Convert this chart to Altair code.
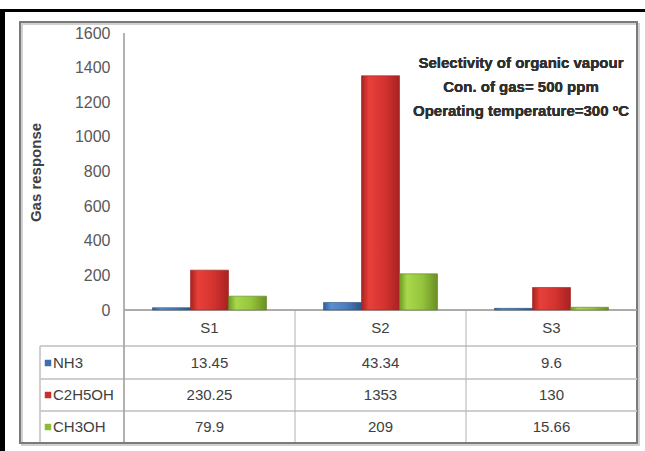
import altair as alt
import pandas as pd

# ---- data ----
categories = ["S1", "S2", "S3"]
series = ["NH3", "C2H5OH", "CH3OH"]
nh3 = [13.45, 43.34, 9.6]
c2h5oh = [230.25, 1353, 130]
ch3oh = [79.9, 209, 15.66]
nh3_txt = ["13.45", "43.34", "9.6"]
c2h5oh_txt = ["230.25", "1353", "130"]
ch3oh_txt = ["79.9", "209", "15.66"]
y_ticks = [0, 200, 400, 600, 800, 1000, 1200, 1400, 1600]
note_lines = ["Selectivity of organic vapour", "Con. of gas= 500 ppm", "Operating temperature=300 \u00baC"]

rows = []
for s, vals, txts in [("NH3", nh3, nh3_txt), ("C2H5OH", c2h5oh, c2h5oh_txt), ("CH3OH", ch3oh, ch3oh_txt)]:
    for c, v, t in zip(categories, vals, txts):
        rows.append({"category": c, "series": s, "value": v, "label": t})
df = pd.DataFrame(rows)
cat_df = pd.DataFrame({"category": categories})

# ---- layout ----
W, H = 513, 277
ROW_Y = {"NH3": 330, "C2H5OH": 362, "CH3OH": 394}   # row centers (relative to plot origin)
HEAD_Y = 295
TABLE_BOTTOM = 409
LABEL_X = -71
FONT = "Liberation Sans"

gradients = {
    "NH3": ["#2f5f9a", "#5b8fd0", "#4a7dbd", "#2c5488"],
    "C2H5OH": ["#a82220", "#e8403a", "#d43330", "#a82220"],
    "CH3OH": ["#6f9a22", "#a9d84c", "#94c43c", "#6a8f24"],
}
strokes = {"NH3": "#2a4f80", "C2H5OH": "#9a1f1c", "CH3OH": "#5f8020"}
swatch_cols = {"NH3": "#3f6fb0", "C2H5OH": "#c8302c", "CH3OH": "#8cbd34"}


def grad(cols):
    return alt.Gradient(
        gradient="linear", x1=0, x2=1, y1=0, y2=0,
        stops=[alt.GradientStop(color=cols[0], offset=0),
               alt.GradientStop(color=cols[1], offset=0.2),
               alt.GradientStop(color=cols[2], offset=0.6),
               alt.GradientStop(color=cols[3], offset=1)])


xscale = alt.Scale(domain=categories, paddingInner=0, paddingOuter=0)
xoff = alt.Scale(domain=series, paddingInner=0, paddingOuter=0.75)
yscale = alt.Scale(domain=[0, 1600], nice=False)

base = alt.Chart(df)

yaxis = alt.Axis(values=y_ticks, format="d", grid=False, ticks=False, domain=False,
                 labelFont=FONT, labelFontSize=16, labelColor="#595959",
                 labelPadding=14,
                 title="Gas response", titleFont=FONT, titleFontSize=15,
                 titleFontWeight="bold", titleColor="#404040",
                 titleAngle=270, titleAlign="center", titleBaseline="middle",
                 titleX=-89, titleY=139)

bars = []
for i, s in enumerate(series):
    b = base.transform_filter(alt.datum.series == s).mark_bar(
        color=grad(gradients[s]), stroke=strokes[s], strokeWidth=0.6
    ).encode(
        x=alt.X("category:N", scale=xscale, axis=None),
        xOffset=alt.XOffset("series:N", scale=xoff),
        y=alt.Y("value:Q", scale=yscale, axis=yaxis),
    )
    bars.append(b)

line_col = "#c8c8c8"

# frame: black page edge (top/left) and gray chart border
black_top = alt.Chart(cat_df).mark_rect(color="#000000").encode(
    x=alt.value(-124), x2=alt.value(521), y=alt.value(-24), y2=alt.value(-21))
black_left = alt.Chart(cat_df).mark_rect(color="#000000").encode(
    x=alt.value(-124), x2=alt.value(-119), y=alt.value(-24), y2=alt.value(418))
shadow = alt.Chart(cat_df).mark_rect(fill=None, stroke="#d0d0d0", strokeWidth=2).encode(
    x=alt.value(-102), x2=alt.value(515), y=alt.value(-9), y2=alt.value(412))
border = alt.Chart(cat_df).mark_rect(fill=None, stroke="#7a7a7a", strokeWidth=2).encode(
    x=alt.value(-104), x2=alt.value(513), y=alt.value(-11), y2=alt.value(410))

# axis line extended through table
axis_line = alt.Chart(cat_df).mark_rule(color="#a6a6a6", strokeWidth=1).encode(
    x=alt.value(0), y=alt.value(0), y2=alt.value(TABLE_BOTTOM))
x_line = alt.Chart(cat_df).mark_rule(color="#a0a0a0", strokeWidth=1).encode(
    x=alt.value(0), x2=alt.value(W), y=alt.value(H))

# table horizontal lines
hlines = []
for yy in [313, 346, 378]:
    hlines.append(alt.Chart(cat_df).mark_rule(color=line_col, strokeWidth=1).encode(
        x=alt.value(-84), x2=alt.value(W), y=alt.value(yy)))
left_line = alt.Chart(cat_df).mark_rule(color=line_col, strokeWidth=1).encode(
    x=alt.value(-84), y=alt.value(313), y2=alt.value(TABLE_BOTTOM))

# vertical separators between categories (at band starts)
vsep = alt.Chart(cat_df).transform_filter(alt.datum.category != "S1").mark_rule(
    color="#b0b0b0", strokeWidth=1).encode(
    x=alt.X("category:N", scale=xscale, bandPosition=0, axis=None),
    y=alt.value(H), y2=alt.value(TABLE_BOTTOM))

# header labels
head = alt.Chart(cat_df).mark_text(font=FONT, fontSize=15, color="#404040").encode(
    x=alt.X("category:N", scale=xscale, axis=None),
    y=alt.value(HEAD_Y), text="category:N")

table_layers = []
for s in series:
    table_layers.append(
        base.transform_filter(alt.datum.series == s).mark_text(
            font=FONT, fontSize=15, color="#404040").encode(
            x=alt.X("category:N", scale=xscale, axis=None),
            y=alt.value(ROW_Y[s]), text="label:N"))
    one = pd.DataFrame({"series": [s]})
    table_layers.append(
        alt.Chart(one).mark_text(font=FONT, fontSize=15, color="#404040", align="left").encode(
            x=alt.value(LABEL_X), y=alt.value(ROW_Y[s]), text="series:N"))
    table_layers.append(
        alt.Chart(one).mark_square(size=42, opacity=1, color=swatch_cols[s]).encode(
            x=alt.value(LABEL_X - 5), y=alt.value(ROW_Y[s])))

note = alt.Chart(cat_df).mark_text(font=FONT, fontSize=15, fontWeight="bold", color="#303030",
                                   lineHeight=24, baseline="middle", align="center").encode(
    x=alt.value(397), y=alt.value(30), text=alt.value(note_lines))

chart = alt.layer(
    shadow, border, black_top, black_left,
    *hlines, left_line, vsep, x_line, axis_line,
    *bars, head, *table_layers, note
).properties(
    width=W, height=H,
    autosize=alt.AutoSizeParams(type="none"),
    padding={"left": 124, "top": 33, "right": 8, "bottom": 141},
    background="white",
).configure_view(stroke=None)

chart.save("out.html", embed_options={"renderer": "svg", "actions": False})
